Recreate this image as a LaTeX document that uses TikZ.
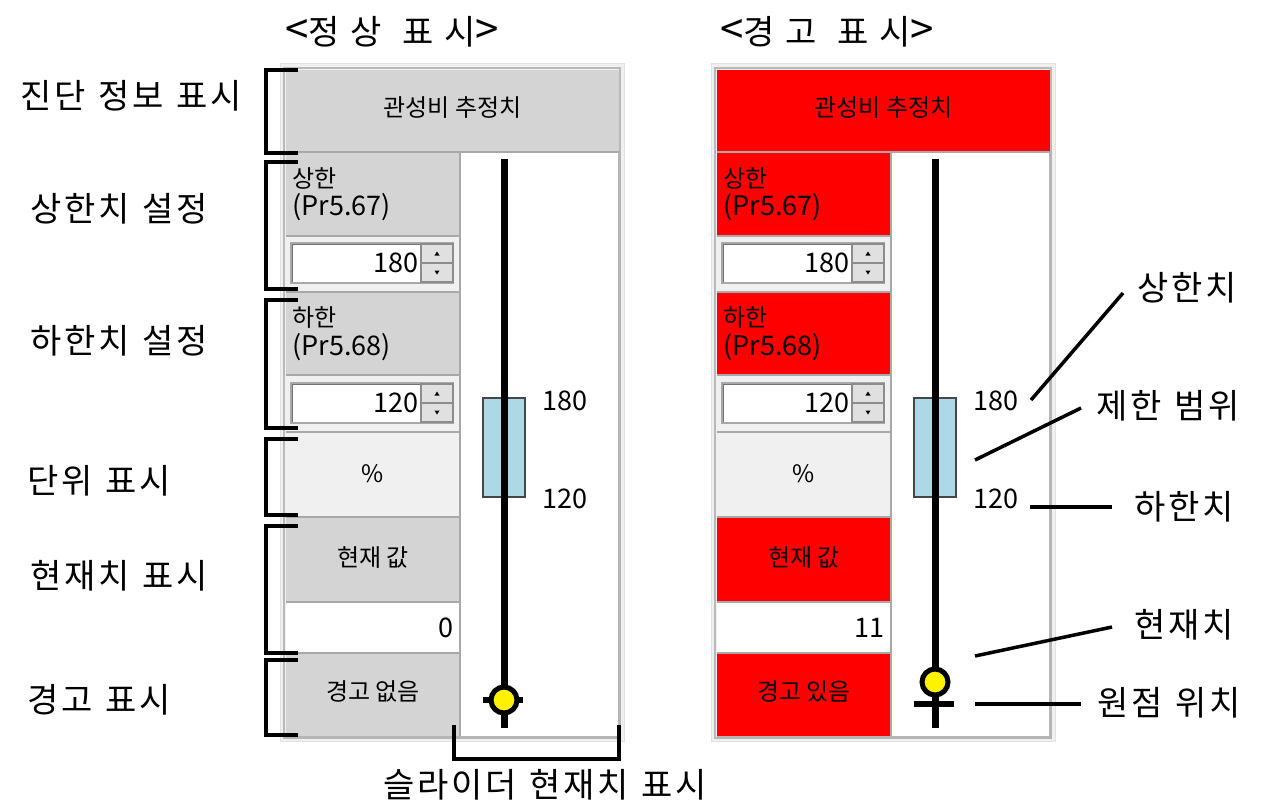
\documentclass[tikz,border=0pt]{standalone}
\usepackage{fontspec}
\newfontfamily\krlab{Noto Sans CJK KR}[LetterSpace=8,WordSpace=1.2]
\newfontfamily\krtitle{Noto Sans CJK KR}[LetterSpace=30,WordSpace=1.2]
\newfontfamily\krui{Noto Sans CJK KR}[WordSpace=2]
\newfontfamily\uinum{Noto Sans CJK KR}
\definecolor{framebg}{RGB}{240,240,240}
\definecolor{framebd}{RGB}{226,226,226}
\definecolor{cellline}{RGB}{168,168,168}
\definecolor{cellgray}{RGB}{212,212,212}
\definecolor{warnred}{RGB}{255,0,0}
\definecolor{sliderblue}{RGB}{173,216,230}
\definecolor{rectedge}{RGB}{70,70,70}
\definecolor{btngray}{RGB}{224,224,224}
\definecolor{btnedge}{RGB}{140,140,140}
\newcommand\bigang[1]{{\fontsize{21}{20}\selectfont #1}}
\tikzset{
  lab/.style={font=\krlab\fontsize{17}{20}\selectfont, inner sep=0pt},
  ttl/.style={font=\krtitle\fontsize{17}{20}\selectfont, inner sep=0pt},
  uik/.style={font=\krui\fontsize{12}{14}\selectfont, inner sep=0pt},
  uin/.style={font=\uinum\fontsize{13.5}{15}\selectfont, inner sep=0pt},
  brk/.style={line width=2pt, line cap=butt},
  lead/.style={line width=1.75pt},
  sep/.style={draw=cellline, line width=1pt},
  knob/.style={draw=black, line width=2.5pt, fill=yellow},
}
% #1 prefix, #2 x shift, #3 cell colour, #4 current value, #5 warning text,
% #6 knob y, #7 origin y
\newcommand\drawpanel[7]{%
\begin{scope}[shift={(#2,0)}]
  \fill[framebg, draw=framebd, line width=0.5pt] (280,63) rectangle (624,741);
  \draw[cellline!80, line width=0.75pt] (284,68) rectangle (620,738);
  % header
  \fill[#3] (286,70) rectangle (619,151);
  \node[uik] (#1hdr) at (452.5,108) {관성비 추정치};
  % left column cells
  \fill[#3] (286,153) rectangle (459,235);
  \fill[#3] (286,293) rectangle (459,374);
  \fill[framebg] (286,433) rectangle (459,516);
  \fill[#3] (286,518) rectangle (459,601);
  \fill[white] (286,603) rectangle (459,652);
  \fill[#3] (286,654) rectangle (459,736);
  % slider area
  \fill[white] (461,153) rectangle (619,736);
  % separators
  \draw[sep] (286,152) -- (620,152);
  \foreach \yy in {236,292,375,432,517,602,653} \draw[sep] (286,\yy) -- (460,\yy);
  \draw[sep] (460,152) -- (460,737);
  \draw[draw=cellline!85, line width=1.5pt] (619.5,152) -- (619.5,737) -- (286,737);
  % spin boxes
  \foreach \yt in {243,383} {
    \fill[white, draw=cellline, line width=1.2pt] (291,\yt) rectangle (453,\yt+40);
    \draw[black!55, line width=0.6pt] (292.5,\yt+39) -- (292.5,\yt+1.5) -- (452,\yt+1.5);
    \fill[btngray, draw=btnedge, line width=0.6pt] (421,\yt+1) rectangle (453,\yt+20);
    \fill[btngray, draw=btnedge, line width=0.6pt] (421,\yt+20) rectangle (453,\yt+39);
    \fill[black] (434.5,\yt+12.5) -- (439.5,\yt+12.5) -- (437,\yt+8.5) -- cycle;
    \fill[black] (434.5,\yt+27.5) -- (439.5,\yt+27.5) -- (437,\yt+31.5) -- cycle;
  }
  % cell texts
  \node[uik, anchor=west] (#1up) at (292,178) {상한};
  \node[uin, anchor=west] (#1upp) at (292,207) {(Pr5.67)};
  \node[uin, anchor=east] (#1upv) at (419,263) {180};
  \node[uik, anchor=west] (#1lo) at (292,318) {하한};
  \node[uin, anchor=west] (#1lop) at (292,347) {(Pr5.68)};
  \node[uin, anchor=east] (#1lov) at (419,403) {120};
  \node[uik] (#1unit) at (373,474) {\%};
  \node[uik] (#1cur) at (373,557) {현재 값};
  \node[uin, anchor=east] (#1val) at (454,628) {#4};
  \node[uik] (#1warn) at (373,691) {#5};
  % slider
  \fill[sliderblue, draw=rectedge, line width=0.75pt] (483,398) rectangle (525,497);
  \coordinate (#1top) at (504,159);
  \coordinate (#1bot) at (504,728);
  \draw[line width=3.5pt] (#1top) -- (#1bot);
  \coordinate (#1ol) at (483,#7);
  \coordinate (#1or) at (523,#7);
  \draw[line width=3pt] (#1ol) -- (#1or);
  \node[knob, circle, minimum size=13pt, inner sep=0pt] (#1knob) at (504,#6) {};
  \node[uin, anchor=west] (#1hi) at (542,401) {180};
  \node[uin, anchor=west] (#1lw) at (542,499) {120};
\end{scope}}

\begin{document}
\begin{tikzpicture}[x=0.5pt, y=-0.5pt]
\fill[white] (0,0) rectangle (1263,810);
\useasboundingbox (0,0) rectangle (1263,810);

\node[ttl] (titleL) at (392,32) {\bigang{<}정상 표시\bigang{>}};
\node[ttl] (titleR) at (827,32) {\bigang{<}경고 표시\bigang{>}};

\drawpanel{L}{0}{cellgray}{0}{경고 없음}{700}{700}
\drawpanel{R}{431}{warnred}{11}{경고 있음}{682}{704}

% left brackets
\draw[brk] (298,70) -- (266,70) -- (266,153) -- (298,153);
\draw[brk] (298,162) -- (266,162) -- (266,289) -- (298,289);
\draw[brk] (298,300) -- (266,300) -- (266,428) -- (298,428);
\draw[brk] (298,439) -- (266,439) -- (266,515) -- (298,515);
\draw[brk] (298,526) -- (266,526) -- (266,653) -- (298,653);
\draw[brk] (298,660) -- (266,660) -- (266,735) -- (298,735);

% left labels
\node[lab] (lDiag) at (131,96) {진단 정보 표시};
\node[lab] (lUp) at (119,209) {상한치 설정};
\node[lab] (lLo) at (119,341) {하한치 설정};
\node[lab] (lUnit) at (99,481) {단위 표시};
\node[lab] (lCur) at (119,576) {현재치 표시};
\node[lab] (lWarn) at (99,700) {경고 표시};

% bottom bracket
\draw[brk] (454,725) -- (454,759) -- (619,759) -- (619,725);
\node[lab] (lSlide) at (545,785) {슬라이더 현재치 표시};

% right labels and leaders
\node[lab] (rUp) at (1187,288) {상한치};
\node[lab] (rRange) at (1168,406) {제한 범위};
\node[lab] (rLo) at (1184,507) {하한치};
\node[lab] (rCur) at (1184,625) {현재치};
\node[lab] (rOrg) at (1169,703) {원점 위치};

\coordinate (a1) at (1031,400); \coordinate (b1) at (1123,293);
\coordinate (a2) at (975,460);  \coordinate (b2) at (1081,408);
\coordinate (a3) at (1030,507); \coordinate (b3) at (1112,507);
\coordinate (a4) at (975,656);  \coordinate (b4) at (1112,627);
\coordinate (a5) at (975,704);  \coordinate (b5) at (1081,704);
\draw[lead] (a1) -- (b1);
\draw[lead] (a2) -- (b2);
\draw[lead] (a3) -- (b3);
\draw[lead] (a4) -- (b4);
\draw[lead] (a5) -- (b5);
\end{tikzpicture}
\end{document}
